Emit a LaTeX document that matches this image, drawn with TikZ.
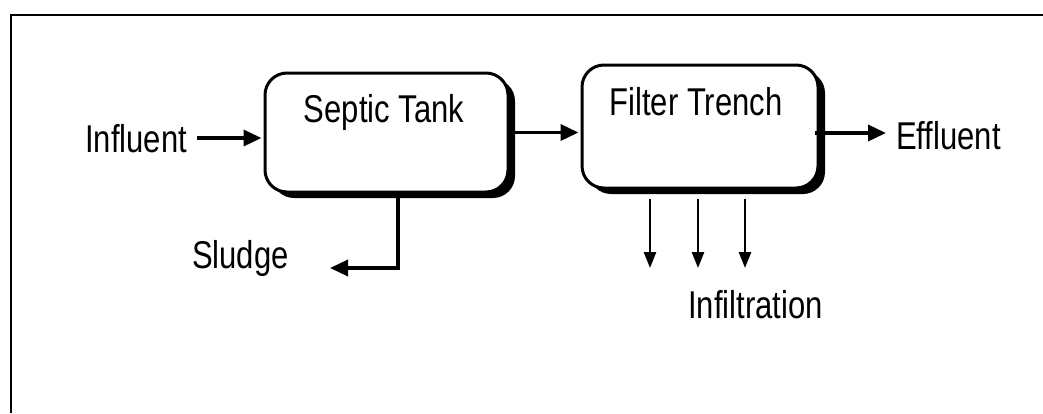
\documentclass[tikz,border=0pt]{standalone}
\usepackage{fontspec}
\setmainfont{Liberation Sans}
\usetikzlibrary{arrows.meta,shadows}

\newcommand{\lbl}[1]{\scalebox{1}[1.25]{#1}}

\tikzset{
  unit/.style={draw=black, line width=3pt, fill=white, rounded corners=22pt,
    drop shadow={shadow xshift=7pt, shadow yshift=-6pt, opacity=1, fill=black}},
  txt/.style={inner sep=0pt, font=\fontsize{31}{36}\selectfont},
  flow/.style={line width=3.5pt, -{Triangle[length=18pt,width=16pt]}},
  seep/.style={line width=2.6pt, -{Triangle[length=16pt,width=12pt]}}
}

\begin{document}
\begin{tikzpicture}[x=1pt,y=-1pt]
  \useasboundingbox (0,0) rectangle (1043,413);

  % outer frame (top and left edges)
  \draw[line width=2pt] (1043,15) -- (11,15) -- (11,413);

  % treatment units
  \node[unit, minimum width=243pt, minimum height=119pt] (st) at (386.5,132.5) {};
  \node[unit, minimum width=236pt, minimum height=123pt] (ft) at (700,126.5) {};
  \node[txt, anchor=base] (sttext) at (384,122) {\lbl{Septic Tank}};
  \node[txt, anchor=base] (fttext) at (696,115) {\lbl{Filter Trench}};

  % stream labels
  \node[txt, anchor=base west] (infl) at (85,152) {\lbl{Influent}};
  \node[txt, anchor=base west] (effl) at (896,149) {\lbl{Effluent}};
  \node[txt, anchor=base west] (sludge) at (192,268) {\lbl{Sludge}};
  \node[txt, anchor=base west] (infil) at (688,318) {\lbl{Infiltration}};

  % free ends of the outlet lines
  \coordinate (slc) at (398,268);
  \coordinate (sltip) at (330,268);
  \coordinate (i1) at (650,268);
  \coordinate (i2) at (698,268);
  \coordinate (i3) at (745,268);
  \coordinate (inflow) at (197,138);
  \coordinate (effout) at (815,133);

  % flows
  \draw[flow, shorten >=2pt] (inflow) -- (inflow -| st.west);
  \draw[flow, shorten >=2pt] (st.east) -- (st.east -| ft.west);
  \draw[flow, shorten >=10pt] (effout) -- (effout -| effl.west);
  \draw[flow] (st.south -| slc) -- (slc) -- (sltip);
  \draw[seep, shorten <=9pt] (ft.south -| i1) -- (i1);
  \draw[seep, shorten <=9pt] (ft.south -| i2) -- (i2);
  \draw[seep, shorten <=9pt] (ft.south -| i3) -- (i3);
\end{tikzpicture}
\end{document}
